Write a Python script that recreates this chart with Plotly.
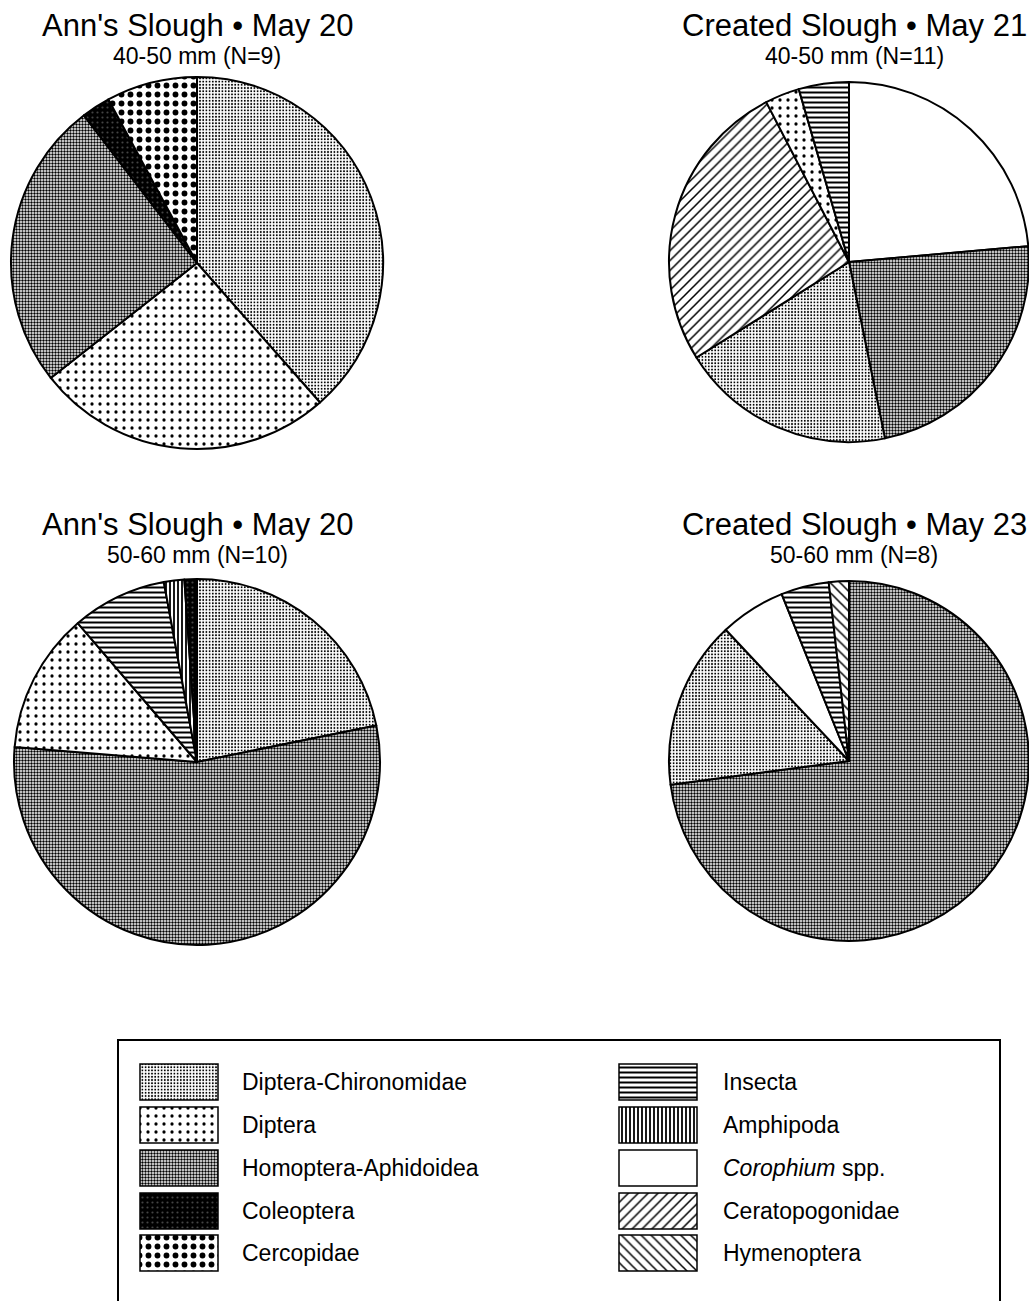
import plotly.graph_objects as go

W, H = 1029, 1301
OFF = 0  # body margin is removed in the page (see write_html below)

# ---- data (percent of diet, read clockwise from 12 o'clock) ----
categories = ["Diptera-Chironomidae", "Diptera", "Homoptera-Aphidoidea", "Coleoptera", "Cercopidae",
              "Insecta", "Amphipoda", "Corophium spp.", "Ceratopogonidae", "Hymenoptera"]

ann_4050_labels = ["Diptera-Chironomidae", "Diptera", "Homoptera-Aphidoidea", "Coleoptera", "Cercopidae"]
ann_4050_values = [38.5, 25.9, 25.2, 2.5, 7.9]

cre_4050_labels = ["Corophium spp.", "Homoptera-Aphidoidea", "Diptera-Chironomidae", "Ceratopogonidae", "Diptera", "Insecta"]
cre_4050_values = [23.6, 23.2, 19.3, 26.3, 3.1, 4.5]

ann_5060_labels = ["Diptera-Chironomidae", "Homoptera-Aphidoidea", "Diptera", "Insecta", "Amphipoda", "Coleoptera"]
ann_5060_values = [21.8, 54.5, 12.4, 8.4, 1.8, 1.1]

cre_5060_labels = ["Homoptera-Aphidoidea", "Diptera-Chironomidae", "Corophium spp.", "Insecta", "Hymenoptera"]
cre_5060_values = [72.9, 15.1, 5.9, 4.3, 1.8]

titles = ["Ann's Slough • May 20", "Created Slough • May 21", "Ann's Slough • May 20", "Created Slough • May 23"]
subtitles = ["40-50 mm (N=9)", "40-50 mm (N=11)", "50-60 mm (N=10)", "50-60 mm (N=8)"]

legend_text = ["Diptera-Chironomidae", "Diptera", "Homoptera-Aphidoidea", "Coleoptera", "Cercopidae",
               "Insecta", "Amphipoda", "<i>Corophium</i> spp.", "Ceratopogonidae", "Hymenoptera"]

# ---- styles ----
STYLE = {
    "Diptera-Chironomidae": dict(shape=".", fg="black", bg="white", size=3.2, sol=0.28),
    "Diptera": dict(shape=".", fg="black", bg="white", size=8, sol=0.13),
    "Homoptera-Aphidoidea": dict(shape=".", fg="black", bg="white", size=3, sol=0.5),
    "Coleoptera": dict(shape=".", fg="#444444", bg="black", size=5, sol=0.15),
    "Cercopidae": dict(shape=".", fg="black", bg="white", size=9, sol=0.33),
    "Insecta": dict(shape="-", fg="black", bg="white", size=5, sol=0.4),
    "Amphipoda": dict(shape="|", fg="black", bg="white", size=4, sol=0.45),
    "Corophium spp.": dict(shape="", fg="black", bg="white", size=8, sol=0.3),
    "Ceratopogonidae": dict(shape="/", fg="black", bg="white", size=7, sol=0.22),
    "Hymenoptera": dict(shape="\\", fg="black", bg="white", size=7, sol=0.22),
}

FONT = "Liberation Sans, Arial, Helvetica, sans-serif"


def px(x):
    return (x - OFF) / W


def py(y):
    return 1 - (y - OFF) / H


def pattern_for(labels):
    return dict(
        shape=[STYLE[l]["shape"] for l in labels],
        fgcolor=[STYLE[l]["fg"] for l in labels],
        bgcolor=[STYLE[l]["bg"] for l in labels],
        size=[STYLE[l]["size"] for l in labels],
        solidity=[STYLE[l]["sol"] for l in labels],
        fillmode="replace",
    )


def dom(cx, cy, r):
    x0 = max(0, px(cx - r))
    x1 = min(1, px(cx + r))
    y0 = max(0, py(cy + r))
    y1 = min(1, py(cy - r))
    return dict(x=[x0, x1], y=[y0, y1])


pies = [
    (ann_4050_labels, ann_4050_values, (197, 263, 186)),
    (cre_4050_labels, cre_4050_values, (849, 262, 180)),
    (ann_5060_labels, ann_5060_values, (197, 762, 183)),
    (cre_5060_labels, cre_5060_values, (849, 761, 180)),
]

fig = go.Figure()
for labels, values, (cx, cy, r) in pies:
    fig.add_trace(go.Pie(
        labels=labels, values=values, sort=False, direction="clockwise", rotation=0,
        textinfo="none", hoverinfo="label+percent", showlegend=False,
        domain=dom(cx, cy, r),
        marker=dict(colors=["white"] * len(labels), line=dict(color="black", width=2),
                    pattern=pattern_for(labels)),
    ))

annotations = []
title_pos = [(197, 25, 56), (854, 25, 56), (197, 524, 555), (854, 524, 555)]
for t, s, (x, y1, y2) in zip(titles, subtitles, title_pos):
    annotations.append(dict(text=t, x=px(x), y=py(y1), xref="paper", yref="paper",
                            showarrow=False, xanchor="center", yanchor="middle",
                            font=dict(family=FONT, size=31, color="black")))
    annotations.append(dict(text=s, x=px(x), y=py(y2), xref="paper", yref="paper",
                            showarrow=False, xanchor="center", yanchor="middle",
                            font=dict(family=FONT, size=23, color="black")))

# ---- legend: swatches as patterned bars in a pixel-space axis ----
col_sw_x = [179, 658]
col_tx_x = [240, 721]
row_y = [1082, 1125, 1168, 1211, 1253]
sw_w, sw_h = 78, 36

sw_x, sw_base, sw_labels = [], [], []
for i, cat in enumerate(categories):
    c, rr = divmod(i, 5)
    sw_x.append(col_sw_x[c])
    sw_base.append(row_y[rr] - sw_h / 2)
    sw_labels.append(cat)
    annotations.append(dict(text=legend_text[i], x=px(col_tx_x[c]), y=py(row_y[rr]),
                            xref="paper", yref="paper", showarrow=False,
                            xanchor="left", yanchor="middle",
                            font=dict(family=FONT, size=23, color="black")))

fig.add_trace(go.Bar(
    x=sw_x, y=[sw_h] * len(sw_x), base=sw_base, width=sw_w,
    xaxis="x2", yaxis="y2", showlegend=False, hoverinfo="skip",
    marker=dict(color="white", line=dict(color="black", width=1.5),
                pattern=pattern_for(sw_labels)),
))

fig.update_layout(
    width=W, height=H,
    margin=dict(l=0, r=0, t=0, b=0),
    paper_bgcolor="white", plot_bgcolor="rgba(0,0,0,0)",
    barmode="overlay",
    xaxis2=dict(domain=[0, 1], range=[OFF, W + OFF], visible=False, fixedrange=True),
    yaxis2=dict(domain=[0, 1], range=[H + OFF, OFF], visible=False, fixedrange=True, anchor="x2"),
    annotations=annotations,
    shapes=[dict(type="rect", xref="paper", yref="paper",
                 x0=px(118), x1=px(1000), y0=-0.01, y1=py(1040),
                 line=dict(color="black", width=2), fillcolor="rgba(0,0,0,0)")],
)
fig.update_xaxes(visible=False)
fig.update_yaxes(visible=False)

fig.write_html("out.html", config={"displayModeBar": False},
               post_script="document.body.style.margin='0px';")
